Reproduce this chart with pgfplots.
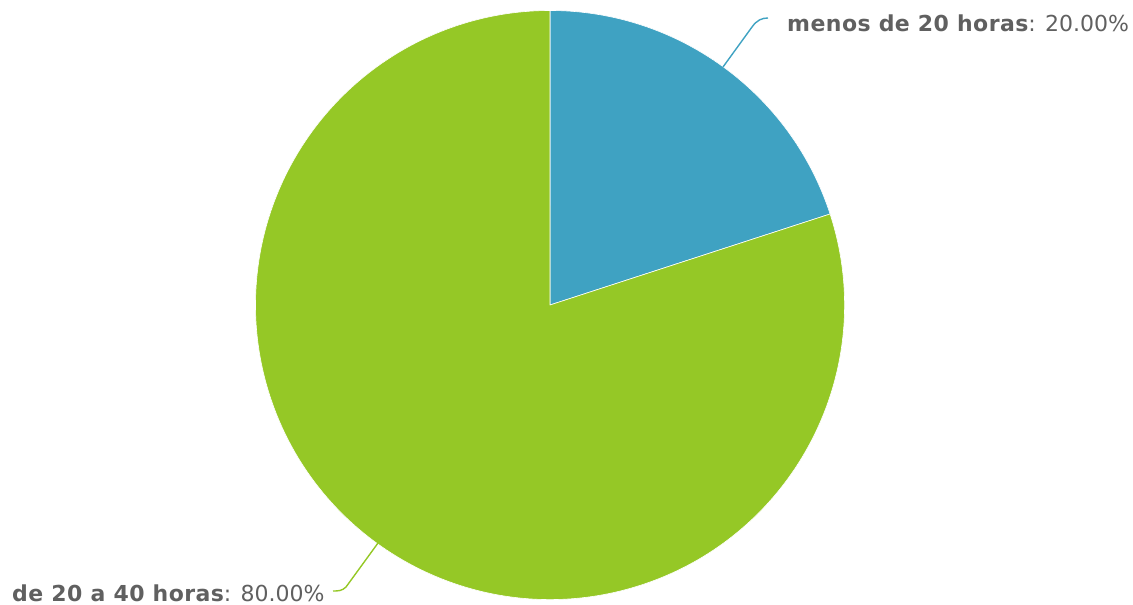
\documentclass[border=0pt]{standalone}
\usepackage{pgfplots}
\pgfplotsset{compat=1.18}
\usepackage{pgfplotstable}
\usepackage{fontspec}
\setmainfont{DejaVu Sans}
\definecolor{sliceA}{HTML}{3FA2C2}
\definecolor{sliceB}{HTML}{95C826}
\definecolor{lbl}{HTML}{606060}
\newcommand\bl[1]{{\bfseries\addfontfeatures{LetterSpace=2}#1}}
\pgfplotstableread[col sep=comma]{
label,value
menos de 20 horas,20
de 20 a 40 horas,80
}\piedata
\pgfplotstablegetelem{0}{value}\of\piedata\edef\va{\pgfplotsretval}
\pgfplotstablegetelem{1}{value}\of\piedata\edef\vb{\pgfplotsretval}
\pgfmathsetmacro\aend{90-(\va/(\va+\vb))*360}
\pgfmathsetmacro\bend{\aend-(\vb/(\va+\vb))*360}
\begin{document}
\begin{tikzpicture}
\begin{axis}[
  scale only axis, width=1133bp, height=605bp,
  xmin=0, xmax=1133, ymin=0, ymax=605,
  hide axis, clip=false,
]
\path[use as bounding box] (axis cs:0,0) rectangle (axis cs:1133,605);
\fill[sliceA, draw=white, line width=0.6bp, line join=round] (axis cs:550,300) -- (axis cs:550,594.5) arc[start angle=90, end angle=\aend, radius=294.5bp] -- cycle;
\fill[sliceB, draw=white, line width=0.6bp, line join=round] (axis cs:550,300) -- ++(\aend:294.5bp) arc[start angle=\aend, end angle=\bend, radius=294.5bp] -- cycle;
\draw[sliceA, line width=1.4bp] (axis cs:723,538) -- (axis cs:752,578) .. controls (axis cs:757,585) and (axis cs:762,587) .. (axis cs:768,587);
\draw[sliceB, line width=1.4bp] (axis cs:378,62) -- (axis cs:346,18) .. controls (axis cs:342,14) and (axis cs:338,14) .. (axis cs:333,14);
\node[anchor=base west, inner sep=0pt, text=lbl, font=\fontsize{22bp}{26bp}\selectfont] at (axis cs:787,573) {\bl{menos de 20 horas}: 20.00\%};
\node[anchor=base west, inner sep=0pt, text=lbl, font=\fontsize{22bp}{26bp}\selectfont] at (axis cs:12,3.5) {\bl{de 20 a 40 horas}: 80.00\%};
\end{axis}
\end{tikzpicture}
\end{document}
